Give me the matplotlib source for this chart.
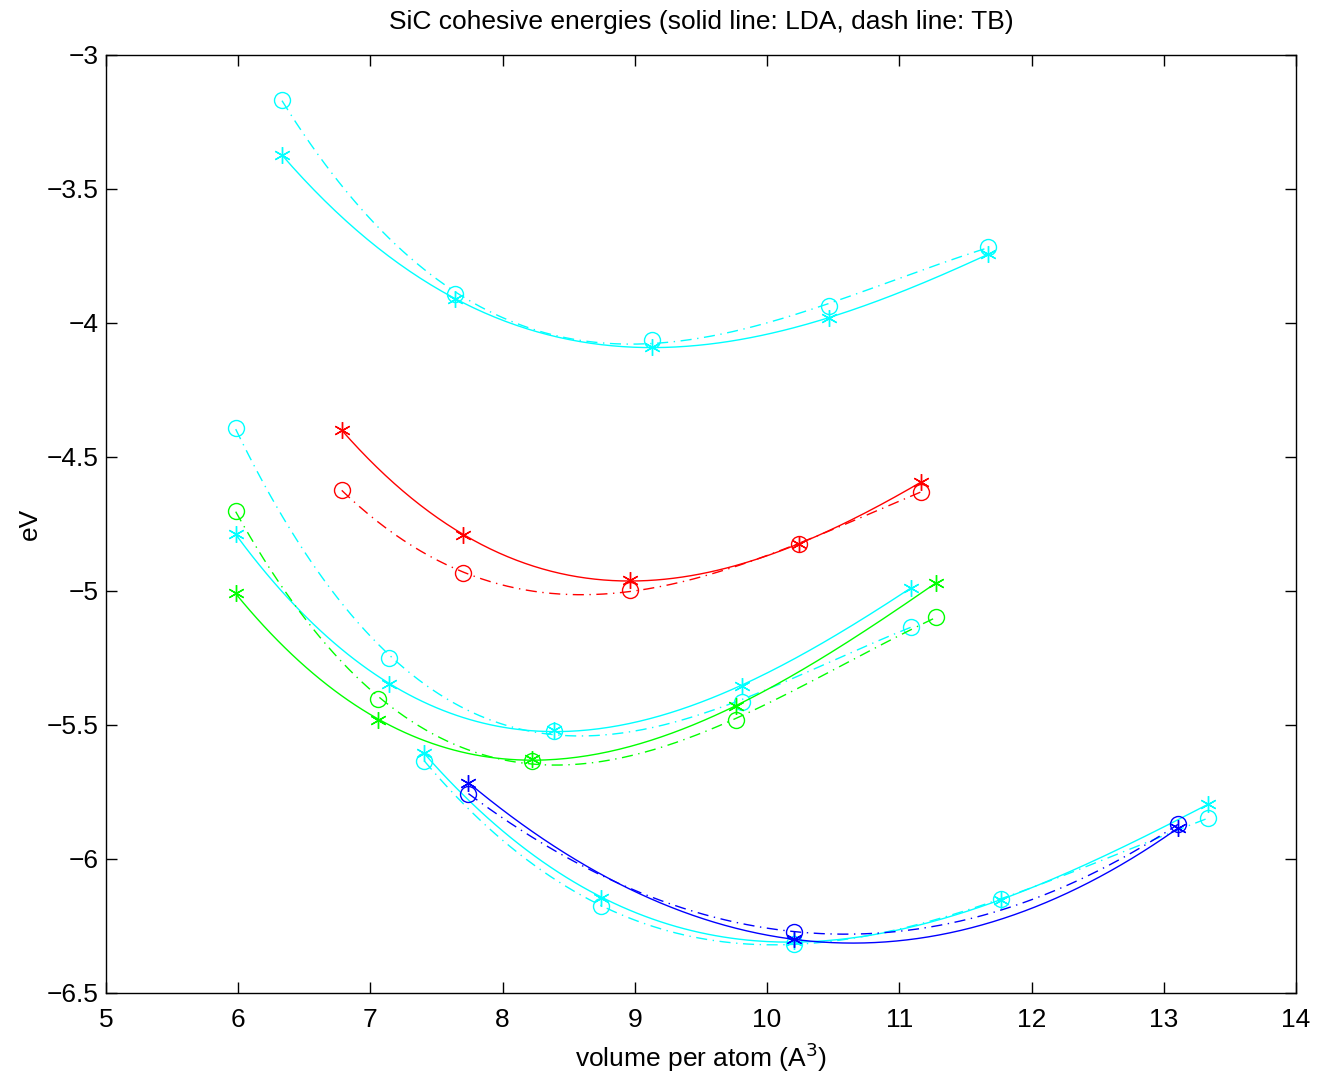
import numpy as np
import matplotlib
matplotlib.use("Agg")
import matplotlib.pyplot as plt

plt.rcParams['font.family'] = ['Liberation Sans', 'DejaVu Sans']

# each set: volumes, LDA energies (stars, solid), TB energies (circles, dash-dot)
v_top = [6.331, 7.640, 9.130, 10.469, 11.672]
lda_top = [-3.373, -3.910, -4.090, -3.981, -3.743]
tb_top = [-3.168, -3.892, -4.063, -3.937, -3.716]

v_red = [6.783, 7.703, 8.964, 10.242, 11.163]
lda_red = [-4.399, -4.792, -4.959, -4.826, -4.593]
tb_red = [-4.623, -4.934, -4.996, -4.826, -4.629]

v_mid = [5.981, 7.141, 8.391, 9.813, 11.087]
lda_mid = [-4.788, -5.348, -5.520, -5.353, -4.988]
tb_mid = [-4.393, -5.249, -5.522, -5.413, -5.133]

v_green = [5.981, 7.060, 8.225, 9.766, 11.278]
lda_green = [-5.009, -5.481, -5.628, -5.429, -4.969]
tb_green = [-4.701, -5.404, -5.634, -5.481, -5.097]

v_low = [7.408, 8.742, 10.207, 11.768, 13.331]
lda_low = [-5.606, -6.144, -6.306, -6.154, -5.796]
tb_low = [-5.634, -6.175, -6.316, -6.150, -5.848]

v_blue = [7.741, 10.207, 13.107]
lda_blue = [-5.715, -6.300, -5.885]
tb_blue = [-5.756, -6.271, -5.871]

sets = [
    (v_top, lda_top, tb_top, (0, 1, 1)),
    (v_red, lda_red, tb_red, (1, 0, 0)),
    (v_mid, lda_mid, tb_mid, (0, 1, 1)),
    (v_green, lda_green, tb_green, (0, 1, 0)),
    (v_low, lda_low, tb_low, (0, 1, 1)),
    (v_blue, lda_blue, tb_blue, (0, 0, 1)),
]

fig = plt.figure(figsize=(13.19, 10.77), dpi=100)
ax = fig.add_axes([106 / 1319, 1 - 993 / 1077, 1190 / 1319, 938 / 1077])

for v, e_lda, e_tb, col in sets:
    v = np.array(v)
    deg = min(3, len(v) - 1)
    vv = np.linspace(v.min(), v.max(), 200)
    # smooth fit of each data set
    ax.plot(vv, np.polyval(np.polyfit(v, e_lda, deg), vv), '-', color=col, lw=1.0)
    ax.plot(vv, np.polyval(np.polyfit(v, e_tb, deg), vv), '-.', color=col, lw=1.0,
            dashes=(8, 4, 1, 4))
    ax.plot(v, e_lda, color=col, ls='none', ms=12, mew=1.0,
            marker=(6, 2, 0))
    ax.plot(v, e_tb, 'o', color=col, ms=11.5, mew=1.0, mfc='none')

ax.set_xlim(5, 14)
ax.set_ylim(-6.5, -3)
ax.set_xticks(range(5, 15))
ax.set_yticks(np.arange(-6.5, -2.9, 0.5))
ax.set_yticklabels(['\u22126.5', '\u22126', '\u22125.5', '\u22125', '\u22124.5',
                    '\u22124', '\u22123.5', '\u22123'])
ax.tick_params(direction='in', length=8, width=1, top=True, right=True,
               labelsize=19, pad=5)
ax.tick_params(axis='x', pad=11)
for s in ax.spines.values():
    s.set_linewidth(1.0)

ax.set_title('SiC cohesive energies (solid line: LDA, dash line: TB)',
             fontsize=19, pad=19)
ax.set_xlabel('volume per atom (A$^3$)', fontsize=19, labelpad=6)
ax.set_ylabel('eV', fontsize=19, labelpad=4)

fig.savefig('out.png', dpi=100)
